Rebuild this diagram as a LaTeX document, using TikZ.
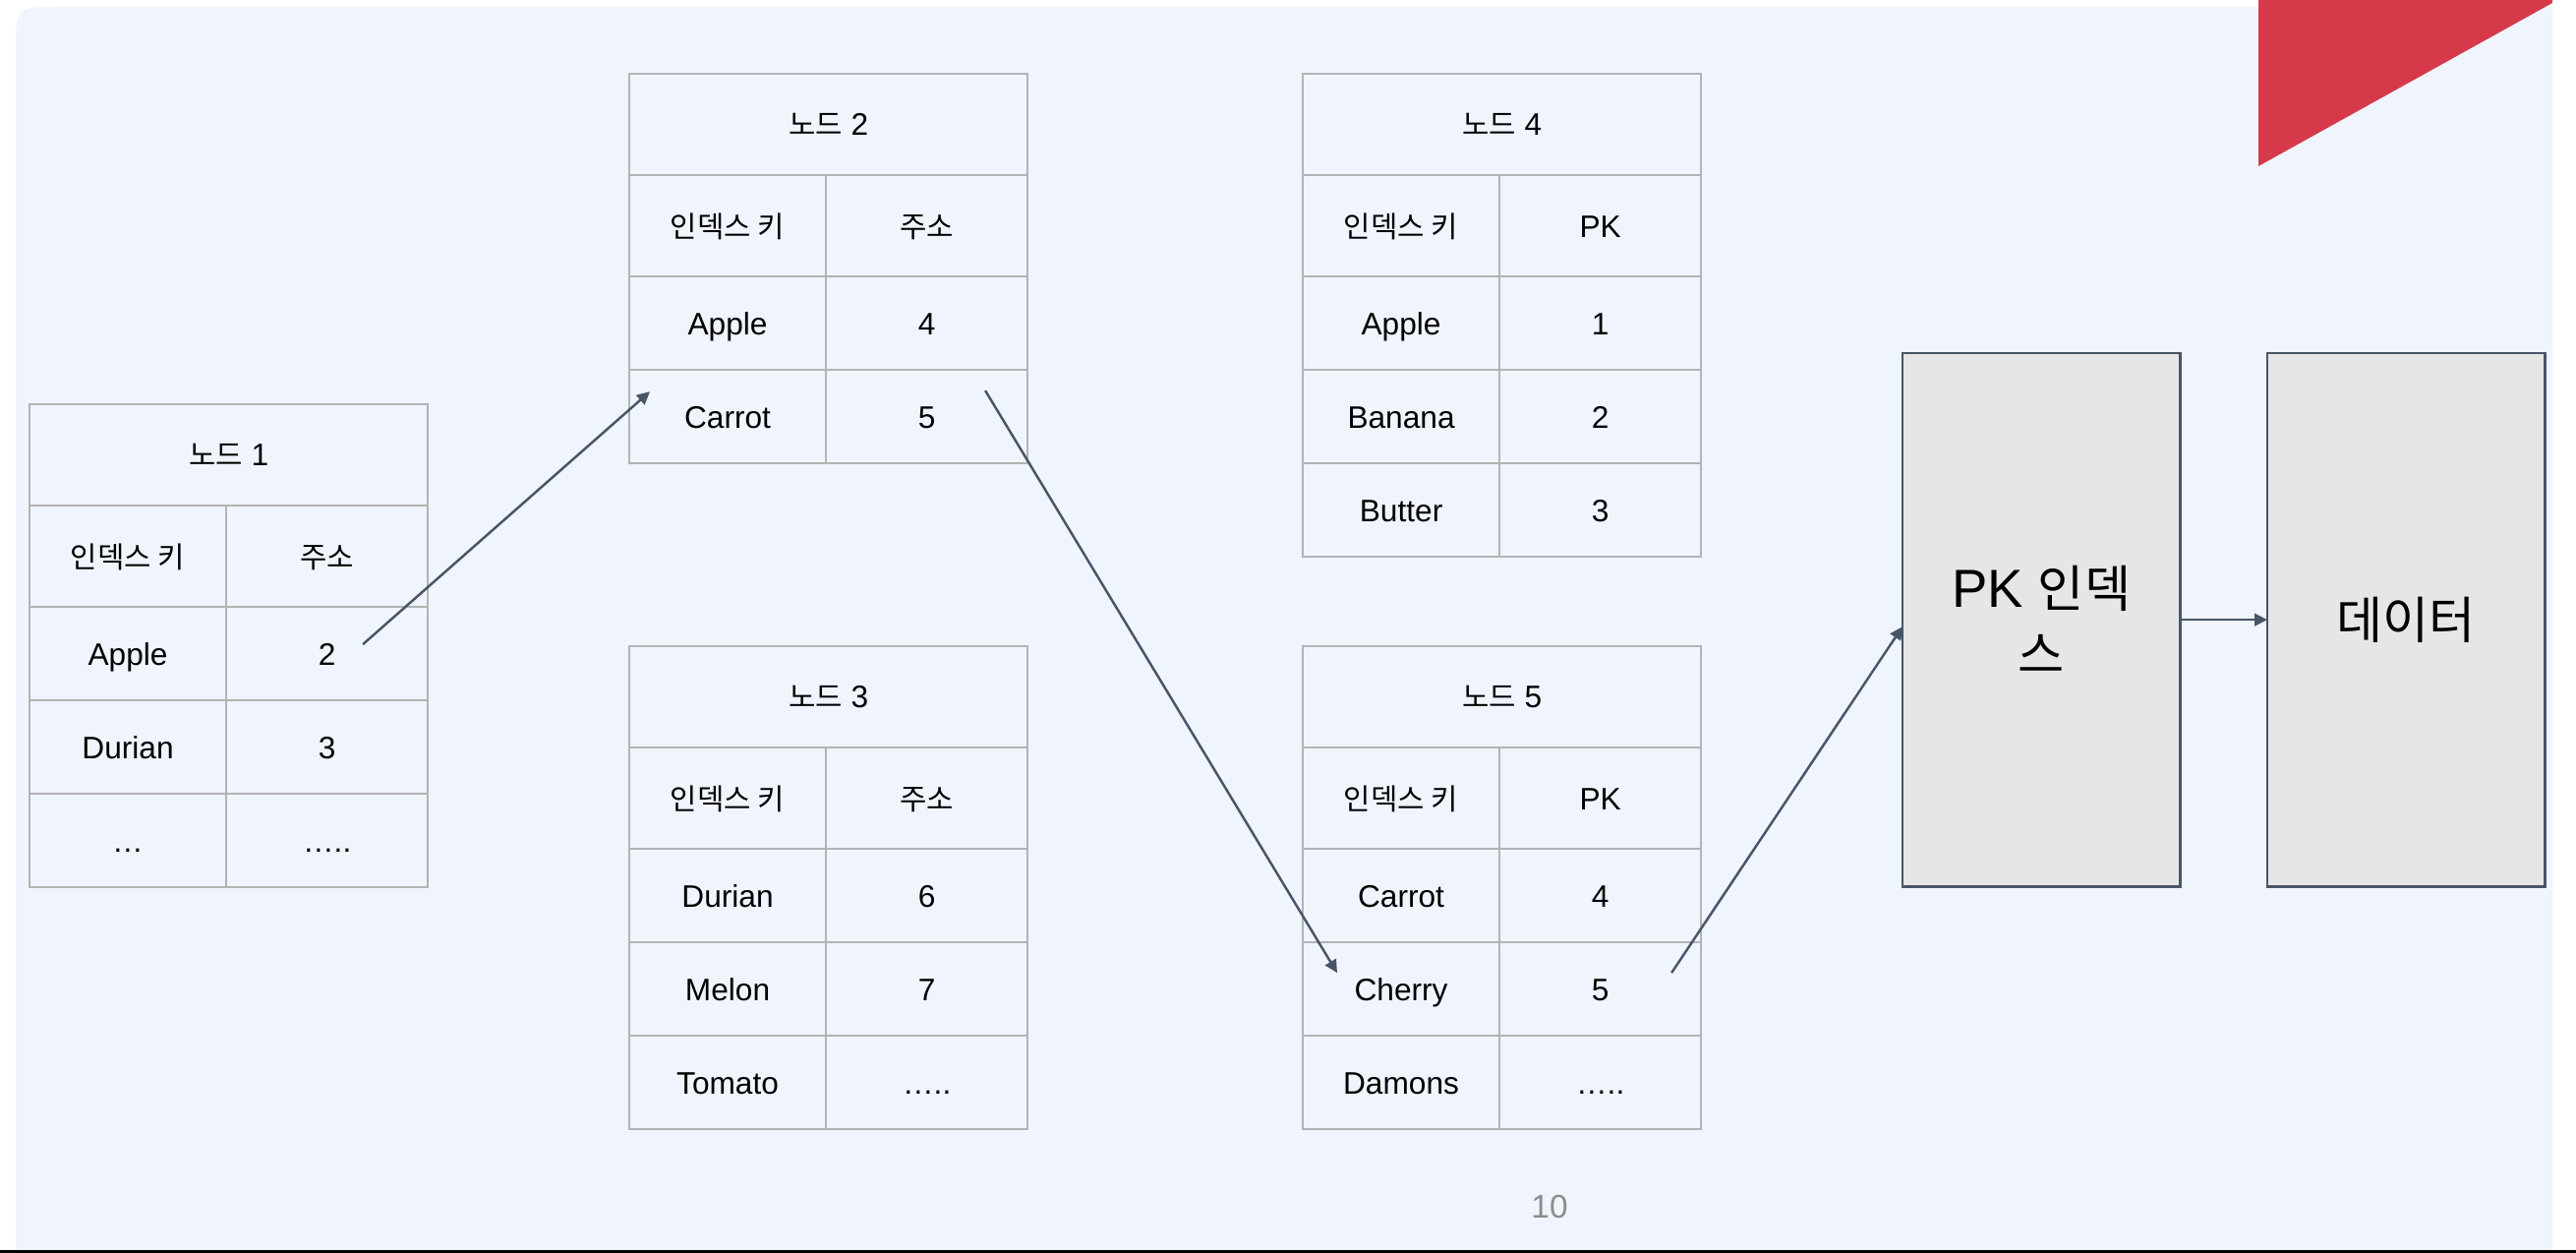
\documentclass[tikz,border=0pt]{standalone}
\usepackage{fontspec}
\setmainfont{Liberation Sans}
\newfontfamily\kr[Scale=0.94]{Noto Sans CJK KR}
\usetikzlibrary{arrows.meta}
\definecolor{slidebg}{HTML}{F0F4FD}
\definecolor{cellline}{HTML}{B3B3B3}
\definecolor{slate}{HTML}{485568}
\definecolor{boxfill}{HTML}{E6E6E6}
\definecolor{cornerred}{HTML}{D63A4A}
\definecolor{pagegray}{HTML}{8C8C8C}
% one b-tree page: name, top left corner, number, second column, rows
\newcommand{\btable}[5]{%
  \node[cell, minimum width=4.05cm, minimum height=1.03cm] (#1) at (#2) {{\kr 노드} #3};
  \node[cell, minimum width=2cm, minimum height=1.03cm] (#1k) at (#1.south west) {\kr 인덱스 키};
  \node[cell, minimum width=2.05cm, minimum height=1.03cm] (#1c) at (#1k.north east) {#4};
  \foreach \k/\v [count=\i] in {#5} {
    \node[cell, minimum width=2cm] (#1-\i-k) at ([yshift={-(\i-1)*0.95cm}]#1k.south west) {\k};
    \node[cell, minimum width=2.05cm] (#1-\i-v) at (#1-\i-k.north east) {\v};
  }%
}

\begin{document}
\begin{tikzpicture}[x=0.01cm, y=-0.01cm,
    cell/.style={draw=cellline, line width=0.6pt, anchor=north west, inner sep=0pt, outer sep=0pt,
      minimum height=0.95cm, text height=6.5pt, text depth=0pt, font=\fontsize{9}{11}\selectfont},
    box/.style={draw=slate, fill=boxfill, line width=0.75pt, anchor=north west, align=center,
      outer sep=0pt, minimum width=2.82cm, minimum height=5.42cm, font=\fontsize{15.5}{19}\selectfont},
    link/.style={draw=slate, line width=0.7pt, -{Triangle[length=3.7pt,width=3.6pt]}}]
    \useasboundingbox (0,0) rectangle (2620,1274);
    % slide
    \fill[white] (0,0) rectangle (2620,1274);
    \fill[slidebg] (16,1272) -- (16,52) .. controls (16,7) .. (61,7) -- (2596,7) -- (2596,1272) -- cycle;
    \fill[cornerred] (2297,0) -- (2596,0) -- (2596,3) -- (2297,169) -- cycle;
    \fill[black] (0,1271.5) rectangle (2620,1274);

    \btable{n1}{30,411}{1}{\kr 주소}{Apple/2, Durian/3, …/…..}
    \btable{n2}{640,75}{2}{\kr 주소}{Apple/4, Carrot/5}
    \btable{n3}{640,657}{3}{\kr 주소}{Durian/6, Melon/7, Tomato/…..}
    \btable{n4}{1325,75}{4}{PK}{Apple/1, Banana/2, Butter/3}
    \btable{n5}{1325,657}{5}{PK}{Carrot/4, Cherry/5, Damons/…..}

    \node[box] (pk) at (1935,359) {PK {\kr 인덱}\\{\kr 스}};
    \node[box] (data) at (2306,359) {\kr 데이터};

    \draw[link] ([shift={(139,38)}]n1-1-v.north west) -- ([shift={(21,22)}]n2-2-k.north west);
    \draw[link] ([shift={(162,21)}]n2-2-v.north west) -- ([shift={(35,31)}]n5-2-k.north west);
    \draw[link] ([shift={(175,31)}]n5-2-v.north west) -- ([shift={(0,7)}]pk.west);
    \draw[link] (pk) -- (data);

    \node[text=pagegray, font=\fontsize{9.5}{11}\selectfont] (pagenum) at (1576,1227) {10};
\end{tikzpicture}
\end{document}
